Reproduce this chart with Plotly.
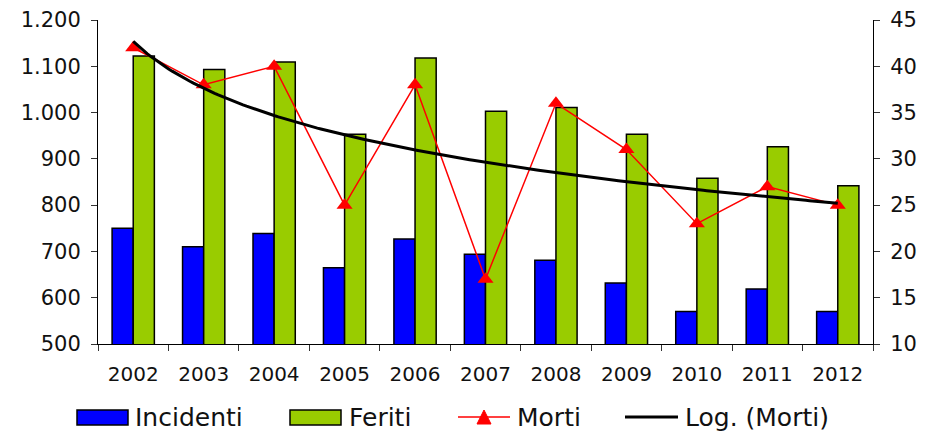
import numpy as np
import plotly.graph_objects as go

years = ["2002", "2003", "2004", "2005", "2006", "2007", "2008", "2009", "2010", "2011", "2012"]
incidenti = [750, 710, 739, 665, 727, 694, 681, 632, 570, 619, 570]
feriti = [1122, 1093, 1109, 953, 1118, 1003, 1011, 953, 858, 926, 842]
morti = [42, 38, 40, 25, 38, 17, 36, 31, 23, 27, 25]

# Logarithmic trendline (least squares on ln(x), x = 1..n), as Excel does
xi = np.arange(1, len(morti) + 1)
b, a = np.polyfit(np.log(xi), np.array(morti, dtype=float), 1)
xf = np.linspace(1, len(morti), 200)
trend = a + b * np.log(xf)

FONT = "DejaVu Sans"
BLUE, GREEN, RED = "#0000FF", "#99CC00", "#FF0000"

fig = go.Figure()
fig.add_trace(go.Bar(x=years, y=incidenti, name="Incidenti",
                     marker=dict(color=BLUE, line=dict(color="black", width=1.5))))
fig.add_trace(go.Bar(x=years, y=feriti, name="Feriti",
                     marker=dict(color=GREEN, line=dict(color="black", width=1.5))))
fig.add_trace(go.Scatter(x=years, y=morti, name="Morti", yaxis="y2", mode="lines+markers",
                         line=dict(color=RED, width=1.5),
                         marker=dict(symbol="triangle-up", size=14, color=RED)))
fig.add_trace(go.Scatter(x=xf - 1, y=trend, name="Log. (Morti)", xaxis="x2", yaxis="y2",
                         mode="lines", line=dict(color="black", width=3)))

# Manual legend (wide swatches like the original)
L, R, T, B = 98, 54, 20, 87
PW, PH = 927 - L - R, 431 - T - B
def px(x):
    return (x - L) / PW
def py(y):
    return (431 - B - y) / PH

ly = 417
tri = "M {},{} L {},{} L {},{} Z".format(px(477), py(424), px(491), py(424), px(484), py(410))
shapes = [
    dict(type="rect", xref="paper", yref="paper", x0=px(77), x1=px(128), y0=py(425), y1=py(410),
         fillcolor=BLUE, line=dict(color="black", width=1.5)),
    dict(type="rect", xref="paper", yref="paper", x0=px(290), x1=px(341), y0=py(425), y1=py(410),
         fillcolor=GREEN, line=dict(color="black", width=1.5)),
    dict(type="line", xref="paper", yref="paper", x0=px(458), x1=px(510), y0=py(ly), y1=py(ly),
         line=dict(color=RED, width=1.5)),
    dict(type="path", xref="paper", yref="paper", path=tri, fillcolor=RED,
         line=dict(color=RED, width=1)),
    dict(type="line", xref="paper", yref="paper", x0=px(625), x1=px(678), y0=py(ly), y1=py(ly),
         line=dict(color="black", width=3)),
]
labels = [("Incidenti", 133), ("Feriti", 347), ("Morti", 515), ("Log. (Morti)", 683)]
annotations = [dict(text=t, xref="paper", yref="paper", x=px(xx), y=py(ly + 1), xanchor="left",
                    yanchor="middle", showarrow=False, font=dict(size=25, color="#111111"))
               for t, xx in labels]

fig.update_layout(
    width=927, height=431,
    margin=dict(l=L, r=R, t=T, b=B, autoexpand=False),
    paper_bgcolor="white", plot_bgcolor="white",
    font=dict(family=FONT, size=20, color="#111111"),
    separators=",.",
    barmode="group", bargap=0.4, bargroupgap=0,
    showlegend=False,
    shapes=shapes, annotations=annotations,
    xaxis=dict(type="category", showline=True, linecolor="black", linewidth=1,
               ticks="outside", tickson="boundaries", ticklen=6, tickcolor="#333333",
               showgrid=False, range=[-0.5, 10.5], ticklabelstandoff=12, automargin=False),
    xaxis2=dict(overlaying="x", range=[-0.5, 10.5], visible=False),
    yaxis=dict(range=[500, 1200], dtick=100, tickformat=",d", showline=True,
               linecolor="black", linewidth=1, ticks="outside", ticklen=6,
               tickcolor="#333333", showgrid=False, zeroline=False,
               ticklabelstandoff=6, automargin=False, tickfont=dict(size=21)),
    yaxis2=dict(range=[10, 45], dtick=5, overlaying="y", side="right", showline=True,
                linecolor="black", linewidth=1, ticks="outside", ticklen=6,
                tickcolor="#333333", showgrid=False, zeroline=False,
                ticklabelstandoff=6, automargin=False, tickfont=dict(size=21)),
)

fig.write_html("out.html", post_script="document.body.style.margin='0';",
               config={"displayModeBar": False})
